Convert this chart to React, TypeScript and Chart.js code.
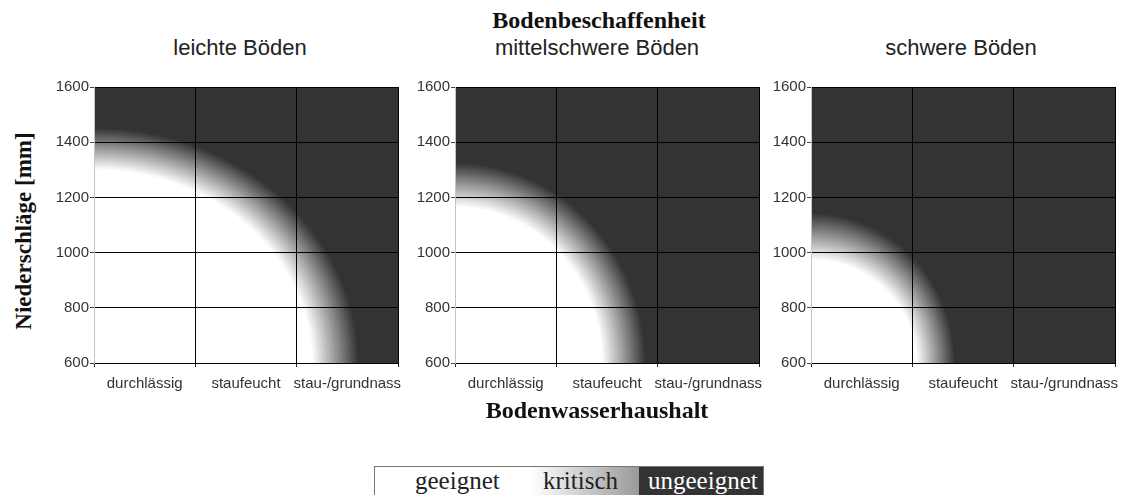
import React, { useEffect, useRef } from "react";
import { Chart, registerables } from "chart.js";

Chart.register(...registerables);

// ---- data ----
const mainTitle = "Bodenbeschaffenheit";
const xTitle = "Bodenwasserhaushalt";
const yTitle = "Niederschläge [mm]";
const soilTypes = ["leichte Böden", "mittelschwere Böden", "schwere Böden"];
const waterRegimes = ["durchlässig", "staufeucht", "stau-/grundnass"];
const yMin = 600;
const yMax = 1600;
const yStep = 200;
// outer edge of the fully "geeignet" (white) zone: along the bottom edge in water-regime column units, along the left edge in mm
const suitableEdgeX = [2.15, 1.45, 1.04];
const suitableEdgeY = [1300, 1165, 973];
// inner edge of the fully "ungeeignet" (dark) zone
const unsuitableEdgeX = [2.61, 1.88, 1.42];
const unsuitableEdgeY = [1452, 1325, 1143];
const legendLabels = ["geeignet", "kritisch", "ungeeignet"];

// ---- layout ----
const plotLefts = [94, 455, 811];
const plotTop = 87;
const plotW = 306;
const plotH = 276;
const yAxisW = 50;
const xAxisH = 34;
const padTop = 10;
const padRight = 6;
const titleCenters = [240, 597, 961];

const WHITE = 255;
const DARK = 51;

const suitabilityPlugin = {
  id: "suitability",
  beforeDraw(chart: any, _args: any, opts: any) {
    const i = opts.index;
    const { ctx, chartArea: a, scales } = chart;
    const xs = scales.x;
    const ys = scales.y;
    const ox = xs.getPixelForValue(0);
    const oy = ys.getPixelForValue(yMin);
    const rxi = xs.getPixelForValue(suitableEdgeX[i]) - ox;
    const ryi = oy - ys.getPixelForValue(suitableEdgeY[i]);
    const rxo = xs.getPixelForValue(unsuitableEdgeX[i]) - ox;
    const ryo = oy - ys.getPixelForValue(unsuitableEdgeY[i]);
    const w = Math.round(a.right - a.left);
    const h = Math.round(a.bottom - a.top);
    const off = document.createElement("canvas");
    off.width = w;
    off.height = h;
    const octx = off.getContext("2d")!;
    const img = octx.createImageData(w, h);
    for (let py = 0; py < h; py++) {
      for (let px = 0; px < w; px++) {
        const dx = a.left + px + 0.5 - ox;
        const dy = oy - (a.top + py + 0.5);
        const di = Math.hypot(dx / rxi, dy / ryi);
        const dO = Math.hypot(dx / rxo, dy / ryo);
        let t: number;
        if (di <= 1) t = 0;
        else if (dO >= 1) t = 1;
        else {
          const r = Math.hypot(dx, dy);
          const ri = r / di;
          const ro = r / dO;
          t = (r - ri) / (ro - ri);
        }
        const v = Math.round(WHITE - t * (WHITE - DARK));
        const k = (py * w + px) * 4;
        img.data[k] = v;
        img.data[k + 1] = v;
        img.data[k + 2] = v;
        img.data[k + 3] = 255;
      }
    }
    octx.putImageData(img, 0, 0);
    ctx.save();
    ctx.drawImage(off, a.left, a.top);
    ctx.restore();
  },
};

function Panel({ index }: { index: number }) {
  const ref = useRef<HTMLCanvasElement>(null);
  useEffect(() => {
    const canvas = ref.current!;
    const tickFont = { family: "'Liberation Sans', Arial, sans-serif", size: 15 };
    const chart = new Chart(canvas, {
      type: "scatter",
      data: { datasets: [{ data: [] }] },
      plugins: [suitabilityPlugin as any],
      options: {
        animation: false,
        responsive: false,
        devicePixelRatio: 1,
        events: [],
        layout: { padding: { top: padTop, right: padRight, bottom: 0, left: 0 } },
        plugins: {
          legend: { display: false },
          tooltip: { enabled: false },
          suitability: { index },
        } as any,
        scales: {
          x: {
            type: "linear",
            min: 0,
            max: waterRegimes.length,
            afterFit: (s: any) => {
              s.height = xAxisH;
            },
            afterBuildTicks: (s: any) => {
              const t: any[] = [];
              for (let k = 0; k <= waterRegimes.length * 2; k++) t.push({ value: k / 2 });
              s.ticks = t;
            },
            ticks: {
              autoSkip: false,
              maxRotation: 0,
              minRotation: 0,
              padding: 8,
              color: "#333",
              font: tickFont,
              callback: (v: any) => {
                const n = Number(v);
                return Number.isInteger(n) ? "" : waterRegimes[Math.floor(n)];
              },
            },
            grid: {
              color: (c: any) => {
                const n = c.tick?.value;
                if (n === undefined || !Number.isInteger(n) || n === 0) return "rgba(0,0,0,0)";
                return "#000";
              },
              tickColor: (c: any) => {
                const n = c.tick?.value;
                if (n === undefined || !Number.isInteger(n)) return "rgba(0,0,0,0)";
                return "#222";
              },
              lineWidth: 1,
              tickLength: 4,
            },
            border: { display: true, color: "#000", width: 1 },
          },
          y: {
            type: "linear",
            min: yMin,
            max: yMax,
            afterFit: (s: any) => {
              s.width = yAxisW;
            },
            ticks: {
              stepSize: yStep,
              padding: 1,
              color: "#333",
              font: tickFont,
              callback: (v: any) => String(v),
            },
            grid: {
              color: "#000",
              tickColor: "#444",
              lineWidth: 1,
              tickLength: 4,
            },
            border: { display: true, color: "#c4c4c4", width: 1 },
          },
        },
      },
    });
    return () => chart.destroy();
  }, [index]);
  const cw = yAxisW + plotW + padRight;
  const ch = padTop + plotH + xAxisH;
  return (
    <canvas
      ref={ref}
      width={cw}
      height={ch}
      style={{
        position: "absolute",
        left: plotLefts[index] - yAxisW,
        top: plotTop - padTop,
        width: cw,
        height: ch,
      }}
    />
  );
}

const serif = "'Liberation Serif', 'Times New Roman', serif";
const sans = "'Liberation Sans', Arial, sans-serif";

export default function App() {
  return (
    <div
      style={{
        position: "fixed",
        left: 0,
        top: 0,
        width: 1123,
        height: 495,
        background: "#fff",
        overflow: "hidden",
      }}
    >
      <div
        style={{
          position: "absolute",
          left: 599,
          top: 8,
          transform: "translateX(-50%)",
          font: `bold 24px ${serif}`,
          lineHeight: "24px",
          whiteSpace: "nowrap",
          color: "#111",
        }}
      >
        {mainTitle}
      </div>
      {soilTypes.map((t, i) => (
        <div
          key={t}
          style={{
            position: "absolute",
            left: titleCenters[i],
            top: 37,
            transform: "translateX(-50%)",
            font: `22px ${sans}`,
            lineHeight: "22px",
            whiteSpace: "nowrap",
            color: "#222",
          }}
        >
          {t}
        </div>
      ))}
      <div
        style={{
          position: "absolute",
          left: 23,
          top: 231,
          transform: "translate(-50%, -50%) rotate(-90deg)",
          font: `bold 23px ${serif}`,
          lineHeight: "23px",
          whiteSpace: "nowrap",
          color: "#111",
        }}
      >
        {yTitle}
      </div>
      {soilTypes.map((t, i) => (
        <Panel key={t} index={i} />
      ))}
      <div
        style={{
          position: "absolute",
          left: 597,
          top: 398,
          transform: "translateX(-50%)",
          font: `bold 24px ${serif}`,
          lineHeight: "24px",
          whiteSpace: "nowrap",
          color: "#111",
        }}
      >
        {xTitle}
      </div>
      <div
        style={{
          position: "absolute",
          left: 374,
          top: 466,
          width: 390,
          height: 40,
          border: "1px solid #777",
          boxSizing: "border-box",
          background:
            "linear-gradient(to right, #fff 0px, #fff 156px, #999 264px, #333 264px, #333 100%)",
        }}
      >
        {legendLabels.map((l, i) => (
          <div
            key={l}
            style={{
              position: "absolute",
              left: [40, 168, 273][i],
              top: 1,
              font: `25px ${serif}`,
              lineHeight: "25px",
              whiteSpace: "nowrap",
              color: i === 2 ? "#fff" : "#222",
            }}
          >
            {l}
          </div>
        ))}
      </div>
    </div>
  );
}
